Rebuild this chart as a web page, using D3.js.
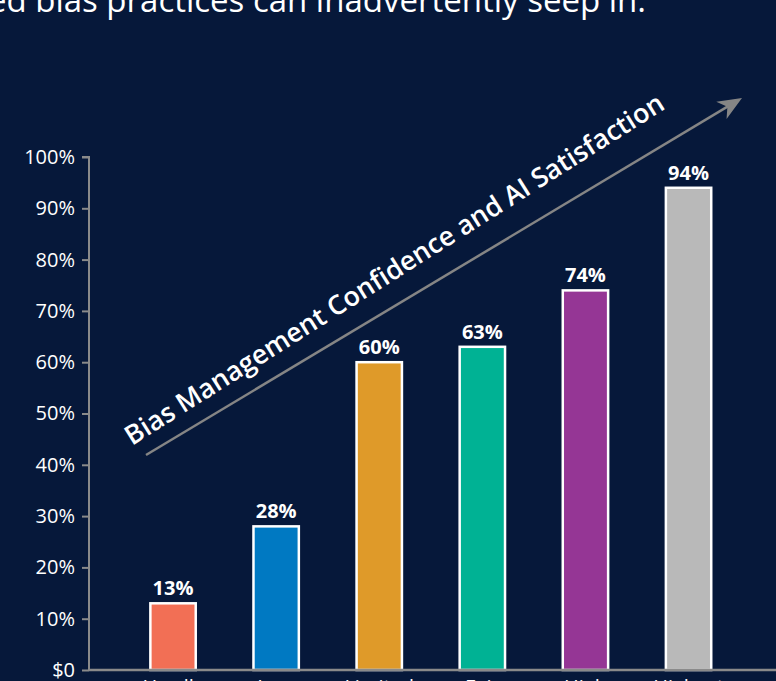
<!DOCTYPE html>
<html>
<head>
<meta charset="utf-8">
<script src="https://cdn.jsdelivr.net/npm/d3@7"></script>
<style>
  html, body { margin: 0; padding: 0; background: #06183a; overflow: hidden; }
  svg { display: block; }
</style>
</head>
<body>
<svg id="chart" width="776" height="681"></svg>
<script>
const categories = ["Hardly", "Low", "Limited", "Fair", "High", "Highest"];
const values = [13, 28, 60, 63, 74, 94];
const valueLabels = ["13%", "28%", "60%", "63%", "74%", "94%"];
const barColors = ["#f26f55", "#0079c2", "#df9a29", "#00b294", "#953695", "#b9b9b9"];
const yTicks = [0, 10, 20, 30, 40, 50, 60, 70, 80, 90, 100];
const yTickLabels = ["$0", "10%", "20%", "30%", "40%", "50%", "60%", "70%", "80%", "90%", "100%"];
const headline = "unmanaged bias practices can inadvertently seep in.";
const trendLabel = "Bias Management Confidence and AI Satisfaction";

const svg = d3.select("#chart");
const W = 776, H = 681;
const FONT = "'Open Sans', 'Noto Sans', sans-serif";

svg.append("rect").attr("width", W).attr("height", H).attr("fill", "#06183a");

// headline (cut off at top)
svg.append("text")
  .attr("x", 646).attr("y", 12)
  .attr("text-anchor", "end")
  .attr("fill", "#ffffff")
  .attr("font-family", FONT)
  .attr("font-size", 33)
  .text(headline);

const y = d3.scaleLinear().domain([0, 100]).range([670, 157]);
const x = d3.scaleBand().domain(categories).range([121.5, 740.1]).paddingInner(0.56).paddingOuter(0.28);

// bars
svg.append("g").selectAll("rect")
  .data(values)
  .join("rect")
  .attr("x", (d, i) => x(categories[i]))
  .attr("y", d => y(d))
  .attr("width", x.bandwidth())
  .attr("height", d => y(0) - y(d))
  .attr("fill", (d, i) => barColors[i])
  .attr("stroke", "#ffffff")
  .attr("stroke-width", 2.5);

// value labels
svg.append("g").selectAll("text")
  .data(values)
  .join("text")
  .attr("x", (d, i) => x(categories[i]) + x.bandwidth() / 2)
  .attr("y", d => y(d) - 8)
  .attr("text-anchor", "middle")
  .attr("fill", "#ffffff")
  .attr("font-family", FONT)
  .attr("font-weight", "bold")
  .attr("font-size", 20)
  .text((d, i) => valueLabels[i]);

// y axis
const yAxis = d3.axisLeft(y).tickValues(yTicks).tickSize(7).tickPadding(7)
  .tickFormat((d, i) => yTickLabels[i]);
const gy = svg.append("g").attr("transform", "translate(89,0)").call(yAxis);
gy.select(".domain").attr("stroke", "#8a8a8a").attr("stroke-width", 2).attr("d", "M-7,157H0V670");
gy.selectAll(".tick line").attr("stroke", "#8a8a8a").attr("stroke-width", 2);
gy.selectAll(".tick text").attr("fill", "#ffffff").attr("font-family", FONT).attr("font-size", 20);

// x axis
const xAxis = d3.axisBottom(x).tickSize(0).tickPadding(10);
const gx = svg.append("g").attr("transform", "translate(0,670)").call(xAxis);
gx.select(".domain").attr("stroke", "#8a8a8a").attr("stroke-width", 2.5).attr("d", "M89,0H776");
gx.selectAll(".tick text").attr("fill", "#ffffff").attr("font-family", FONT).attr("font-size", 20).attr("dy", "0.71em");

// trend arrow + label
const x0 = 146, y0 = 455, x1 = 742, y1 = 98;
const ang = Math.atan2(y1 - y0, x1 - x0) * 180 / Math.PI;
const L = Math.hypot(x1 - x0, y1 - y0);
const g = svg.append("g").attr("transform", `translate(${x0},${y0}) rotate(${ang})`);
g.append("line").attr("x1", 0).attr("y1", 0).attr("x2", L - 14).attr("y2", 0)
  .attr("stroke", "#858585").attr("stroke-width", 2.5);
g.append("path").attr("d", `M${L},0 L${L - 24},-10 L${L - 17},0 L${L - 24},10 Z`).attr("fill", "#858585");

svg.append("text")
  .attr("transform", "translate(132,446) rotate(-32.3)")
  .attr("fill", "#ffffff")
  .attr("font-family", FONT)
  .attr("font-weight", 600)
  .attr("font-size", 26.8)
  .text(trendLabel);
</script>
</body>
</html>
